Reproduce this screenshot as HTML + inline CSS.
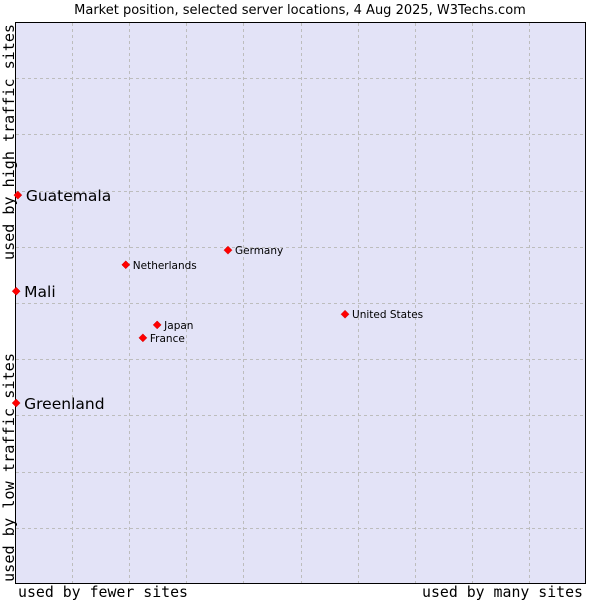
<!DOCTYPE html>
<html><head><meta charset="utf-8"><style>
body{margin:0;background:#fff;width:600px;height:600px;overflow:hidden}
svg text{font-family:"DejaVu Sans","Liberation Sans",sans-serif}
.mono{font-family:"DejaVu Sans Mono","Liberation Mono",monospace}
</style></head><body>
<svg id="chart" width="600" height="600">
<text x="300" y="14" text-anchor="middle" font-size="13" fill="#000">Market position, selected server locations, 4 Aug 2025, W3Techs.com</text>
<rect x="15.5" y="22.5" width="570" height="561" fill="#e3e3f7" stroke="#000" stroke-width="1"/>
<g id="grid"></g>
<g id="points"></g>
<text class="mono" x="18" y="597" font-size="15" textLength="170" lengthAdjust="spacingAndGlyphs">used by fewer sites</text>
<text class="mono" x="422" y="597" font-size="15" textLength="161" lengthAdjust="spacingAndGlyphs">used by many sites</text>
<text class="mono" transform="translate(14,260) rotate(-90)" font-size="15" textLength="236" lengthAdjust="spacingAndGlyphs">used by high traffic sites</text>
<text class="mono" transform="translate(14,582) rotate(-90)" font-size="15" textLength="229" lengthAdjust="spacingAndGlyphs">used by low traffic sites</text>
</svg>
<script>
const names=["Guatemala","Mali","Greenland","Netherlands","Germany","Japan","France","United States"];
const xVals=[0.5,0.2,0.2,19.4,37.3,24.9,22.4,57.8];
const yVals=[69.2,52.1,32.2,56.8,59.4,46.1,43.8,48.0];
const bigLabel=[true,true,true,false,false,false,false,false];
const X0=15,X1=586,Y0=584,Y1=22;
const sx=v=>X0+v/100*(X1-X0);
const sy=v=>Y0-v/100*(Y0-Y1);
const ns="http://www.w3.org/2000/svg";
const grid=document.getElementById('grid');
for(let i=1;i<10;i++){
  const gx=Math.round(sx(i*10))+0.5, gy=Math.round(sy(i*10))+0.5;
  const v=document.createElementNS(ns,'line');
  v.setAttribute('x1',gx);v.setAttribute('x2',gx);v.setAttribute('y1',23);v.setAttribute('y2',583);
  v.setAttribute('stroke','#bdbdbd');v.setAttribute('stroke-dasharray','3,3');
  
  
  grid.appendChild(v);
  const h=document.createElementNS(ns,'line');
  h.setAttribute('y1',gy);h.setAttribute('y2',gy);h.setAttribute('x1',16);h.setAttribute('x2',585);
  h.setAttribute('stroke','#bdbdbd');h.setAttribute('stroke-dasharray','3,3');
  
  
  grid.appendChild(h);
}
const pts=document.getElementById('points');
names.forEach((n,i)=>{
  const x=sx(xVals[i]),y=sy(yVals[i]);
  const d=document.createElementNS(ns,'path');
  d.setAttribute('d',`M${x},${y-4}L${x+4},${y}L${x},${y+4}L${x-4},${y}Z`);
  d.setAttribute('fill','#f00');d.setAttribute('stroke','#c00');d.setAttribute('stroke-width','0.5');
  
  
  pts.appendChild(d);
  const t=document.createElementNS(ns,'text');
  t.setAttribute('x',x+(bigLabel[i]?8:7));
  t.setAttribute('y',y+(bigLabel[i]?6:4));
  t.setAttribute('font-size',bigLabel[i]?'15.5':'10.5');
  t.textContent=n;
  
  
  pts.appendChild(t);
});
</script>
</body></html>
